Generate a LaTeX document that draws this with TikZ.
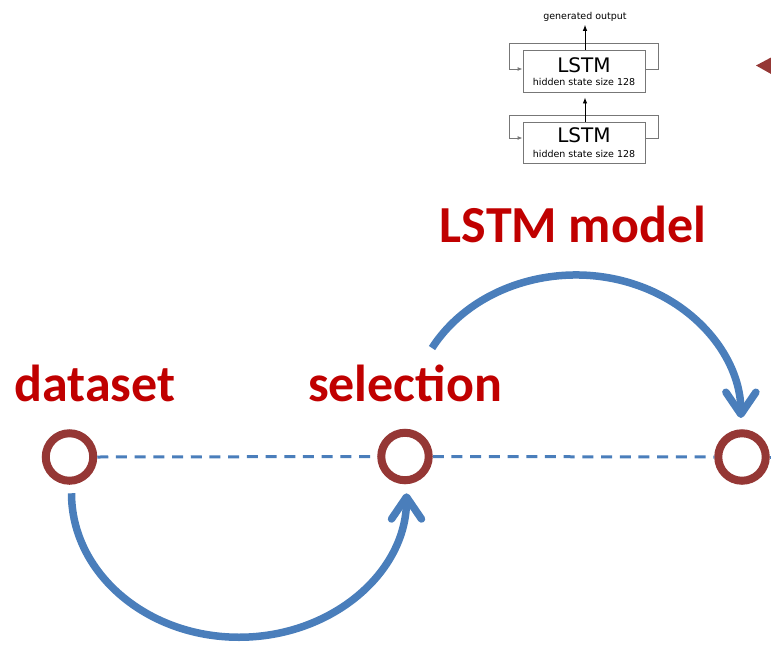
\documentclass[tikz,border=0pt]{standalone}
\usepackage{fontspec}
\setmainfont{Carlito}
\newfontfamily\dvfont{DejaVu Sans}
\usetikzlibrary{arrows.meta}
\definecolor{ringred}{HTML}{953735}
\definecolor{txtred}{HTML}{C00000}
\definecolor{flowblue}{HTML}{4A7EBB}
\definecolor{lgray}{HTML}{777777}
\tikzset{
  ring/.style={circle, draw=ringred, line width=8pt, minimum size=47.5pt, inner sep=0pt, fill=white},
  lbl/.style={anchor=base, text=txtred, font=\fontsize{52}{60}\selectfont\bfseries, inner sep=0pt},
  flow/.style={draw=flowblue, line width=7.5pt, -{Straight Barb[length=22pt,width=30pt,round]}},
  dashln/.style={draw=flowblue, line width=3pt, dash pattern=on 11pt off 7.7pt},
  lbox/.style={draw=lgray, line width=0.9pt, minimum width=122pt, inner sep=0pt},
  big/.style={anchor=base, font=\dvfont\fontsize{20}{22}\selectfont, inner sep=0pt},
  small/.style={anchor=base, font=\dvfont\fontsize{9.5}{11}\selectfont, inner sep=0pt},
  gline/.style={draw=lgray, line width=0.9pt},
  garrow/.style={draw=black, line width=0.9pt, -{Latex[length=6pt,width=4.5pt]}}
}
\begin{document}
\begin{tikzpicture}[x=1pt, y=-1pt]
\useasboundingbox (0,0) rectangle (771,645);
\clip (0,0) rectangle (771,645);
% LSTM block
\node[lbox, minimum height=42pt] (b1) at (584,71) {};
\node[lbox, minimum height=41pt] (b2) at (584,142.5) {};
\node[big] (l1) at (584,72) {LSTM};
\node[small] (h1) at (584,85.5) {hidden state size 128};
\node[big] (l2) at (584,142) {LSTM};
\node[small] (h2) at (584,157.5) {hidden state size 128};
\node[small, anchor=center] (go) at (585,17) {generated output};
\draw[gline, -{Latex[length=5pt,width=4pt]}] ([yshift=2pt]b1.east) -- ++(13,0) -- ++(0,-26) -- ++(-149,0) -- ++(0,26) -- ([yshift=2pt]b1.west);
\draw[gline, -{Latex[length=5pt,width=4pt]}] ([yshift=4.5pt]b2.east) -- ++(13,0) -- ++(0,-23) -- ++(-149,0) -- ++(0,23) -- ([yshift=4.5pt]b2.west);
\draw[garrow, shorten >=5pt] ([xshift=1pt]b2.north) -- ([xshift=1pt]b1.south);
\draw[garrow, shorten >=3pt] ([xshift=1pt]b1.north) -- (go.south);
% triangle at right
\fill[ringred] (756,65.5) -- (772,57) -- (772,74.5) -- cycle;
% timeline
\coordinate (tend) at (790,457);
\node[ring] (d) at (69.5,457) {};
\node[ring] (s) at (405,456.5) {};
\node[ring] (t) at (742,457) {};
\begin{scope}[on background layer/.style={}]
\end{scope}
\draw[dashln] (d.east) -- (s.west);
\draw[dashln] (s.east) -- (t.west);
\draw[dashln] (t.east) -- (tend);
% labels
\node[lbl] (dl) at (95,401) {dataset};
\node[lbl] (sl) at (405,401) {selection};
\node[lbl] (ml) at (573,242) {LSTM model};
% arcs
\draw[flow] ([xshift=2pt,yshift=-8.5pt]d.south) arc[start angle=180, end angle=0, x radius=167.5, y radius=144];
\coordinate (ts) at (432,348);
\draw[flow] (ts) arc[start angle=209.3, end angle=360, x radius=165, y radius=143];
\end{tikzpicture}
\end{document}
